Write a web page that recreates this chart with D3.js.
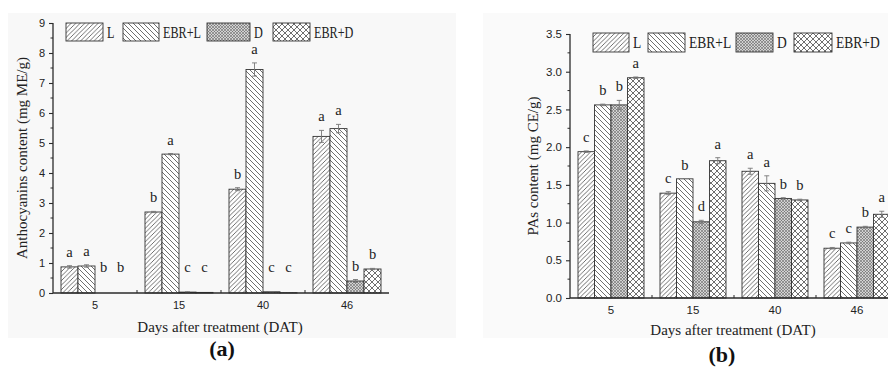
<!DOCTYPE html>
<html>
<head>
<meta charset="utf-8">
<script src="https://cdn.jsdelivr.net/npm/d3@7"></script>
<style>
  html, body { margin: 0; padding: 0; background: #ffffff; }
  svg { display: block; }
</style>
</head>
<body>
<svg id="chart" width="888" height="372"></svg>
<script>
// Sampling days and treatments
const days = ["5", "15", "40", "46"];
const treatments = ["L", "EBR+L", "D", "EBR+D"];

// (a) Anthocyanins content (mg ME/g), one array per treatment, ordered by day
const anthoL     = [0.87, 2.70, 3.46, 5.22];
const anthoEbrL  = [0.90, 4.63, 7.45, 5.48];
const anthoD     = [0.00, 0.03, 0.04, 0.40];
const anthoEbrD  = [0.00, 0.02, 0.01, 0.80];
const anthoErrL    = [0.04, 0.02, 0.05, 0.20];
const anthoErrEbrL = [0.04, 0.02, 0.22, 0.14];
const anthoErrD    = [0.00, 0.01, 0.01, 0.05];
const anthoErrEbrD = [0.00, 0.00, 0.00, 0.02];
const anthoSigL    = ["a", "b", "b", "a"];
const anthoSigEbrL = ["a", "a", "a", "a"];
const anthoSigD    = ["b", "c", "c", "b"];
const anthoSigEbrD = ["b", "c", "c", "b"];
const anthoTicks = [0, 1, 2, 3, 4, 5, 6, 7, 8, 9];

// (b) PAs content (mg CE/g)
const pasL     = [1.94, 1.39, 1.68, 0.66];
const pasEbrL  = [2.56, 1.58, 1.52, 0.73];
const pasD     = [2.56, 1.01, 1.32, 0.94];
const pasEbrD  = [2.92, 1.82, 1.30, 1.11];
const pasErrL    = [0.01, 0.02, 0.04, 0.01];
const pasErrEbrL = [0.01, 0.00, 0.10, 0.01];
const pasErrD    = [0.06, 0.02, 0.01, 0.01];
const pasErrEbrD = [0.01, 0.04, 0.01, 0.04];
const pasSigL    = ["c", "c", "a", "c"];
const pasSigEbrL = ["b", "b", "a", "c"];
const pasSigD    = ["b", "d", "b", "b"];
const pasSigEbrD = ["a", "a", "b", "a"];
const pasTicks = [0.0, 0.5, 1.0, 1.5, 2.0, 2.5, 3.0, 3.5];

const svg = d3.select("#chart");
const defs = svg.append("defs");
const ink = "#2b2b2b";
const serif = "'Liberation Serif', 'Times New Roman', serif";
const sans = "'Liberation Sans', Arial, sans-serif";

// Fill patterns for the four treatments
function hatch(id, size, draw) {
  const p = defs.append("pattern")
    .attr("id", id).attr("patternUnits", "userSpaceOnUse")
    .attr("width", size).attr("height", size);
  p.append("rect").attr("width", size).attr("height", size).attr("fill", "#ffffff");
  draw(p, size);
}
hatch("pat-L", 4.5, (p, s) => {
  p.append("path").attr("d", `M0,${s} L${s},0 M${-s/2},${s/2} L${s/2},${-s/2} M${s/2},${s*1.5} L${s*1.5},${s/2}`)
    .attr("stroke", "#4a4a4a").attr("stroke-width", 0.8);
});
hatch("pat-EBRL", 5, (p, s) => {
  p.append("path").attr("d", `M0,0 L${s},${s} M${-s/2},${s/2} L${s/2},${s*1.5} M${s/2},${-s/2} L${s*1.5},${s/2}`)
    .attr("stroke", "#4a4a4a").attr("stroke-width", 0.8);
});
hatch("pat-D", 3, (p, s) => {
  p.append("rect").attr("width", s).attr("height", s).attr("fill", "#d2d2d2");
  p.append("path").attr("d", `M0,0 L${s},${s} M0,${s} L${s},0`)
    .attr("stroke", "#5e5e5e").attr("stroke-width", 0.55);
});
hatch("pat-EBRD", 6, (p, s) => {
  p.append("path").attr("d", `M0,0 L${s},${s} M0,${s} L${s},0`)
    .attr("stroke", "#4a4a4a").attr("stroke-width", 0.8);
});
const patternOf = { "L": "url(#pat-L)", "EBR+L": "url(#pat-EBRL)", "D": "url(#pat-D)", "EBR+D": "url(#pat-EBRD)" };

function panel(cfg) {
  const g = svg.append("g");

  // faint panel background
  g.append("rect")
    .attr("x", cfg.bg[0]).attr("y", cfg.bg[1])
    .attr("width", cfg.bg[2]).attr("height", cfg.bg[3])
    .attr("fill", cfg.bgColor);

  const x0 = d3.scaleBand().domain(days).range(cfg.xRange);
  const x1 = d3.scaleBand().domain(treatments)
    .range([cfg.groupInset, x0.bandwidth() - cfg.groupInset]);
  const y = d3.scaleLinear().domain(cfg.yDomain).range(cfg.yRange);

  const rows = [];
  days.forEach((day, i) => {
    treatments.forEach((t, j) => {
      rows.push({ day, t, v: cfg.values[j][i], e: cfg.errors[j][i], s: cfg.sig[j][i] });
    });
  });

  // bars
  g.append("g").selectAll("rect").data(rows).join("rect")
    .attr("x", d => x0(d.day) + x1(d.t))
    .attr("y", d => y(d.v))
    .attr("width", x1.bandwidth())
    .attr("height", d => y(0) - y(d.v))
    .attr("fill", d => patternOf[d.t])
    .attr("stroke", d => d.v > 0 ? "#333" : "none")
    .attr("stroke-width", 0.9);

  // error bars
  const eb = g.append("g").attr("stroke", "#777").attr("stroke-width", 0.9);
  rows.filter(d => d.e > 0).forEach(d => {
    const cx = x0(d.day) + x1(d.t) + x1.bandwidth() / 2;
    eb.append("line").attr("x1", cx).attr("x2", cx).attr("y1", y(d.v - d.e)).attr("y2", y(d.v + d.e));
    eb.append("line").attr("x1", cx - 2.5).attr("x2", cx + 2.5).attr("y1", y(d.v + d.e)).attr("y2", y(d.v + d.e));
    eb.append("line").attr("x1", cx - 2.5).attr("x2", cx + 2.5).attr("y1", y(d.v - d.e)).attr("y2", y(d.v - d.e));
  });

  // significance letters
  g.append("g").selectAll("text").data(rows).join("text")
    .attr("x", d => x0(d.day) + x1(d.t) + x1.bandwidth() / 2)
    .attr("y", d => Math.min(y(d.v + d.e) - cfg.letterGap, y(0) - cfg.letterFloor))
    .attr("text-anchor", "middle")
    .attr("font-family", serif).attr("font-size", 14.5).attr("fill", "#222")
    .text(d => d.s);

  // y axis with minor ticks
  const yAxis = d3.axisLeft(y).tickValues(cfg.ticks).tickFormat(cfg.fmt)
    .tickSize(4).tickPadding(4);
  const ya = g.append("g").attr("transform", `translate(${cfg.xRange[0]},0)`).call(yAxis);
  ya.select(".domain").attr("stroke", ink).attr("stroke-width", 1.3).attr("d", `M0,${cfg.yRange[1]}V${cfg.yRange[0]}`);
  ya.selectAll(".tick line").attr("stroke", ink).attr("stroke-width", 1.1);
  ya.selectAll("text").attr("font-family", sans).attr("font-size", cfg.tickFont).attr("fill", "#222");
  const minorY = d3.range(cfg.yDomain[0] + cfg.minor, cfg.yDomain[1], cfg.minor * 2);
  ya.append("g").selectAll("line").data(minorY).join("line")
    .attr("x1", -2.5).attr("x2", 0).attr("y1", d => y(d)).attr("y2", d => y(d))
    .attr("stroke", ink).attr("stroke-width", 1);

  // x axis: labels at group centres, small ticks between groups
  const xAxis = d3.axisBottom(x0).tickSize(0).tickPadding(8);
  const xa = g.append("g").attr("transform", `translate(0,${y(0)})`).call(xAxis);
  xa.select(".domain").attr("stroke", ink).attr("stroke-width", 1.3)
    .attr("d", `M${cfg.xRange[0]},0H${cfg.xRange[1]}`);
  xa.selectAll("text").attr("font-family", sans).attr("font-size", cfg.tickFont).attr("fill", "#222");
  const bounds = days.slice(1).map(d => x0(d));
  xa.append("g").selectAll("line").data(bounds).join("line")
    .attr("x1", d => d).attr("x2", d => d).attr("y1", 0).attr("y2", -3)
    .attr("stroke", ink).attr("stroke-width", 1);

  // axis titles
  g.append("text")
    .attr("x", cfg.xTitlePos[0]).attr("y", cfg.xTitlePos[1])
    .attr("text-anchor", "middle")
    .attr("font-family", serif).attr("font-size", 15).attr("fill", "#222")
    .text("Days after treatment (DAT)");
  g.append("text")
    .attr("transform", `translate(${cfg.yTitlePos[0]},${cfg.yTitlePos[1]}) rotate(-90)`)
    .attr("text-anchor", "middle")
    .attr("font-family", serif).attr("font-size", 15).attr("fill", "#222")
    .text(cfg.yTitle);

  // legend (narrow serif labels)
  const lg = g.append("g");
  cfg.legend.forEach((item, i) => {
    lg.append("rect")
      .attr("x", item[0]).attr("y", cfg.legendY)
      .attr("width", item[1]).attr("height", cfg.legendH)
      .attr("fill", patternOf[treatments[i]])
      .attr("stroke", "#333").attr("stroke-width", 0.9);
    lg.append("text")
      .attr("transform", `translate(${item[0] + item[1] + 4},${cfg.legendY + cfg.legendH / 2 + 5.5}) scale(${cfg.legendSquash},1)`)
      .attr("font-family", serif).attr("font-size", 16.5).attr("fill", "#222")
      .text(treatments[i]);
  });

  // panel label
  g.append("text")
    .attr("x", cfg.labelPos[0]).attr("y", cfg.labelPos[1])
    .attr("text-anchor", "middle")
    .attr("font-family", serif).attr("font-weight", "bold").attr("font-size", 22).attr("fill", "#111")
    .text(cfg.label);
}

panel({
  bg: [8, 13, 448, 325], bgColor: "#f8f8f8",
  xRange: [53, 389], groupInset: 8,
  yDomain: [0, 9], yRange: [293, 23], ticks: anthoTicks, fmt: d3.format("d"), minor: 0.5,
  tickFont: 11,
  values: [anthoL, anthoEbrL, anthoD, anthoEbrD],
  errors: [anthoErrL, anthoErrEbrL, anthoErrD, anthoErrEbrD],
  sig: [anthoSigL, anthoSigEbrL, anthoSigD, anthoSigEbrD],
  letterGap: 9, letterFloor: 21,
  xTitlePos: [220, 332], yTitlePos: [27, 158],
  yTitle: "Anthocyanins content (mg ME/g)",
  legend: [[66, 37], [123, 36], [207, 43], [273, 37]], legendY: 23, legendH: 18, legendSquash: 0.74,
  label: "(a)", labelPos: [222, 356]
});

panel({
  bg: [483, 13, 405, 325], bgColor: "#fafafa",
  xRange: [570, 898], groupInset: 8,
  yDomain: [0, 3.5], yRange: [298, 34], ticks: pasTicks, fmt: d3.format(".1f"), minor: 0.25,
  tickFont: 11.5,
  values: [pasL, pasEbrL, pasD, pasEbrD],
  errors: [pasErrL, pasErrEbrL, pasErrD, pasErrEbrD],
  sig: [pasSigL, pasSigEbrL, pasSigD, pasSigEbrD],
  letterGap: 9, letterFloor: 21,
  xTitlePos: [733, 335], yTitlePos: [538, 166],
  yTitle: "PAs content (mg CE/g)",
  legend: [[593, 36], [648, 37], [736, 37], [794, 38]], legendY: 33, legendH: 19, legendSquash: 0.82,
  label: "(b)", labelPos: [722, 362]
});
</script>
</body>
</html>
